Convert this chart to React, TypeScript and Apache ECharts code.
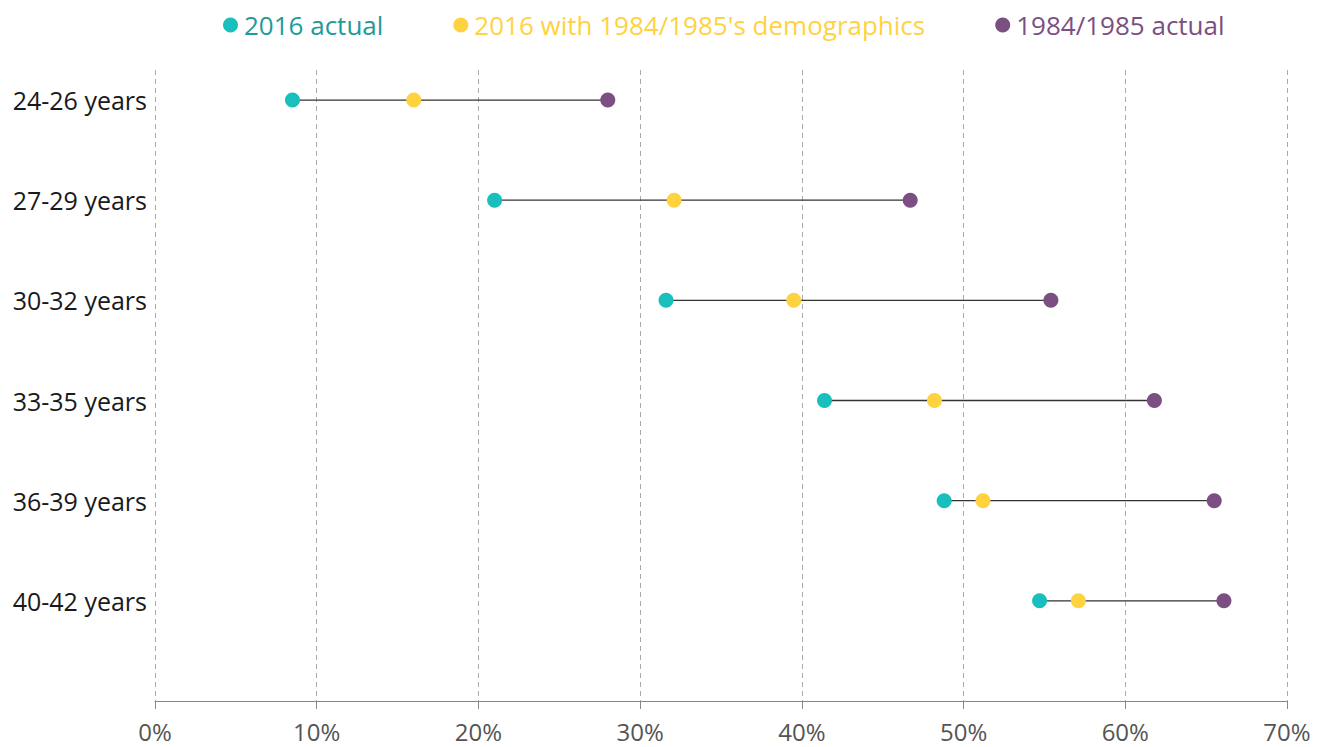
import React, { useEffect, useRef } from "react";
import * as echarts from "echarts";

const categories = ["24-26 years", "27-29 years", "30-32 years", "33-35 years", "36-39 years", "40-42 years"];
const actual2016 = [8.5, 21.0, 31.6, 41.4, 48.8, 54.7];
const with1984Demo = [16.0, 32.1, 39.5, 48.2, 51.2, 57.1];
const actual1984 = [28.0, 46.7, 55.4, 61.8, 65.5, 66.1];
const seriesNames = ["2016 actual", "2016 with 1984/1985's demographics", "1984/1985 actual"];
const colors = ["#19BFBD", "#FFD23F", "#7B4F82"];
const legendTextColors = ["#1E9A98", "#FFD23F", "#7B4F82"];
const xTicks = [0, 10, 20, 30, 40, 50, 60, 70];

const FONT = "'Open Sans', 'Noto Sans', sans-serif";

export default function App() {
  const ref = useRef<HTMLDivElement>(null);
  useEffect(() => {
    document.body.style.margin = "0";
    document.body.style.overflow = "hidden";
    if (!ref.current) return;
    const chart = echarts.init(ref.current, null, { renderer: "svg" });
    const n = categories.length;
    const yPos = (i: number) => n - i;
    const mk = (arr: number[]) => arr.map((v, i) => [v, yPos(i)]);
    const rangeData = categories.map((_, i) => [
      Math.min(actual2016[i], with1984Demo[i], actual1984[i]),
      Math.max(actual2016[i], with1984Demo[i], actual1984[i]),
      yPos(i),
    ]);
    chart.setOption({
      animation: false,
      textStyle: { fontFamily: FONT },
      legend: {
        top: 7,
        left: 218,
        itemGap: 70,
        icon: "circle",
        itemWidth: 15,
        itemHeight: 15,
        data: seriesNames.map((name, i) => ({
          name,
          textStyle: { color: legendTextColors[i] },
        })),
        textStyle: { fontSize: 26, fontFamily: FONT, padding: [0, 0, 0, 1] },
      },
      grid: { left: 155, right: 39, top: 70, bottom: 46, containLabel: false },
      xAxis: {
        type: "value",
        min: xTicks[0],
        max: xTicks[xTicks.length - 1],
        interval: 10,
        axisLine: { show: true, lineStyle: { color: "#888", width: 1 } },
        axisTick: { show: true, length: 8, lineStyle: { color: "#888" } },
        axisLabel: {
          formatter: (v: number) => v + "%",
          color: "#555",
          fontSize: 24,
          lineHeight: 24,
          margin: 18,
          fontFamily: FONT,
        },
        splitLine: { show: true, lineStyle: { color: "#aaa", type: [5, 4], width: 1 } },
      },
      yAxis: {
        type: "value",
        min: 0,
        max: 6.3,
        interval: 1,
        axisLine: { show: false },
        axisTick: { show: false },
        splitLine: { show: false },
        axisLabel: {
          showMaxLabel: false,
          showMinLabel: false,
          formatter: (v: number) => {
            const i = n - v;
            return Number.isInteger(v) && i >= 0 && i < n ? categories[i] : "";
          },
          color: "#1a1a1a",
          fontSize: 25,
          margin: 8,
          fontFamily: FONT,
        },
      },
      series: [
        {
          type: "custom",
          name: "range",
          silent: true,
          z: 1,
          data: rangeData,
          renderItem: (params: any, api: any) => {
            const p1 = api.coord([api.value(0), api.value(2)]);
            const p2 = api.coord([api.value(1), api.value(2)]);
            return {
              type: "line",
              shape: { x1: p1[0], y1: p1[1], x2: p2[0], y2: p2[1] },
              style: { stroke: "#333", lineWidth: 1.3 },
            };
          },
        },
        ...[actual2016, with1984Demo, actual1984].map((arr, k) => ({
          type: "scatter",
          name: seriesNames[k],
          data: mk(arr),
          symbol: "circle",
          symbolSize: 15,
          itemStyle: { color: colors[k], opacity: 1 },
          z: 3,
        })),
      ],
    });
    return () => chart.dispose();
  }, []);
  return <div ref={ref} style={{ width: 1326, height: 747 }} />;
}
